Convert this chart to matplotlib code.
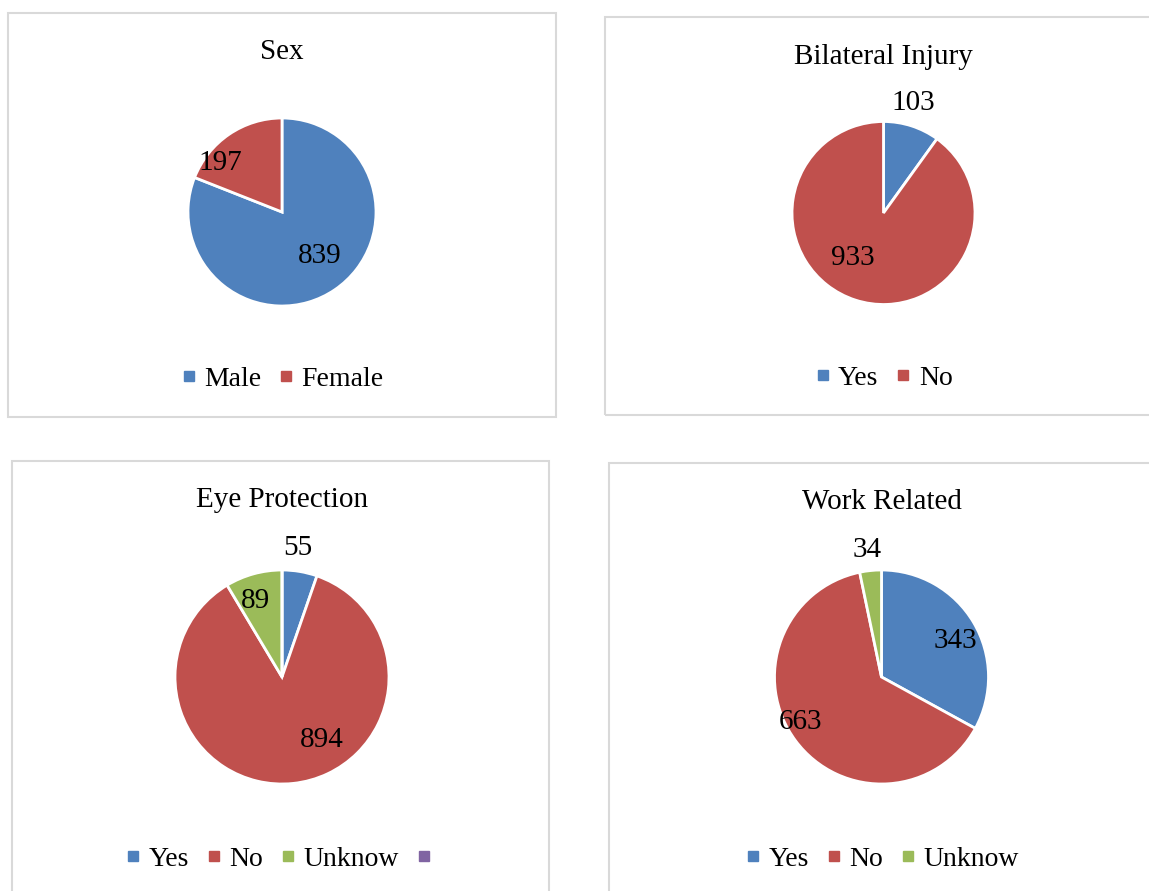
import matplotlib
matplotlib.use("Agg")
import matplotlib.pyplot as plt
from matplotlib.patches import Rectangle
from matplotlib.lines import Line2D

plt.rcParams['font.family'] = ['Liberation Serif', 'DejaVu Serif']

# ---------------- data ----------------
sex_labels = ["Male", "Female"]
sex_values = [839, 197]

bilateral_labels = ["Yes", "No"]
bilateral_values = [103, 933]

eye_labels = ["Yes", "No", "Unknow", ""]
eye_values = [55, 894, 89, 0]

work_labels = ["Yes", "No", "Unknow"]
work_values = [343, 663, 34]

titles = ["Sex", "Bilateral Injury", "Eye Protection", "Work Related"]

# ---------------- style ----------------
BLUE, RED, GREEN, PURPLE = "#4F81BD", "#C0504D", "#9BBB59", "#8064A2"
palette = [BLUE, RED, GREEN, PURPLE]
W, H = 1149, 891
FS_TITLE = 21
FS_LABEL = 21
FS_LEG = 20

# panels: border box (x0, y0, x1, y1) px, pie center px, radius px, title y, legend y
panels = [
    dict(labels=sex_labels, values=sex_values, box=(8, 13, 556, 417),
         c=(282, 212), r=94, ty=52, ly=379,
         offs=[(0.40, -0.47), (-0.66, 0.52)]),
    dict(labels=bilateral_labels, values=bilateral_values, box=(605, 17, 1160, 415),
         c=(883.5, 213), r=91.5, ty=57, ly=378,
         offs=[(0.32, 1.20), (-0.34, -0.49)]),
    dict(labels=eye_labels, values=eye_values, box=(12, 461, 549, 900),
         c=(282, 677), r=107, ty=500, ly=859,
         offs=[(0.15, 1.21), (0.37, -0.59), (-0.25, 0.71), None]),
    dict(labels=work_labels, values=work_values, box=(609, 463, 1160, 900),
         c=(881.5, 677), r=107, ty=502, ly=859,
         offs=[(0.69, 0.34), (-0.76, -0.42), (-0.13, 1.19)]),
]

fig = plt.figure(figsize=(W / 100, H / 100), dpi=100)
fig.patch.set_facecolor("white")

for p, title in zip(panels, titles):
    x0, y0, x1, y1 = p["box"]
    fig.patches.append(Rectangle((x0 / W, 1 - y1 / H), (x1 - x0) / W, (y1 - y0) / H,
                                 transform=fig.transFigure, fill=False,
                                 edgecolor="#D9D9D9", linewidth=1.5))
    cx, cy = p["c"]
    r = p["r"]
    k = 1.4
    ax = fig.add_axes([(cx - k * r) / W, 1 - (cy + k * r) / H, 2 * k * r / W, 2 * k * r / H])
    n = len(p["values"])
    wedges, _ = ax.pie(p["values"], colors=palette[:n], startangle=90, counterclock=False,
                       radius=1.0, wedgeprops=dict(edgecolor="white", linewidth=2))
    for w in wedges:
        w.set_clip_on(False)
    ax.set_xlim(-k, k)
    ax.set_ylim(-k, k)
    ax.set_aspect("equal")
    ax.axis("off")
    for v, off in zip(p["values"], p["offs"]):
        if off is None:
            continue
        ax.text(off[0], off[1], str(v), ha="center", va="center", fontsize=FS_LABEL, color="black")

    fig.text(cx / W, 1 - p["ty"] / H, title, ha="center", va="center", fontsize=FS_TITLE)

    handles = [Line2D([], [], marker="s", linestyle="none", markersize=7,
                      markerfacecolor=palette[i], markeredgecolor=palette[i]) for i in range(n)]
    fig.legend(handles, p["labels"], loc="center", bbox_to_anchor=(cx / W, 1 - p["ly"] / H),
               ncol=n, frameon=False, fontsize=FS_LEG, handlelength=0.6, handletextpad=0.25,
               columnspacing=0.6, borderpad=0, borderaxespad=0)

fig.savefig("out.png", dpi=100, facecolor="white")
